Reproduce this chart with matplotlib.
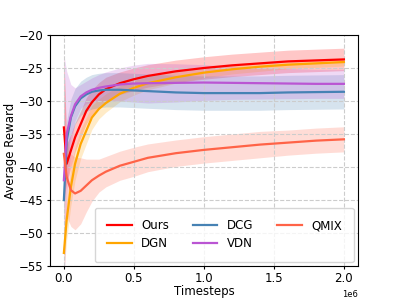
import matplotlib
import numpy as np

matplotlib.use("Agg")
from matplotlib import pyplot as plt

steps = [0, 0.02, 0.05, 0.08, 0.12, 0.16, 0.2, 0.25, 0.3, 0.4, 0.5, 0.6, 0.8, 1.0, 1.2, 1.4, 1.6, 1.8, 2.0]

ours = [-34, -39.5, -37.5, -35.5, -33.5, -31.5, -30.2, -29.0, -28.2, -27.3, -26.7, -26.2, -25.5, -25.0, -24.6, -24.3, -24.0, -23.85, -23.7]
ours_std = [10.7, 3.0, 2.5, 2.2, 2.0, 2.0, 1.9, 1.8, 1.8, 1.7, 1.7, 1.7, 1.7, 1.7, 1.7, 1.7, 1.7, 1.7, 1.7]

dgn = [-53, -48, -43, -39.5, -36.5, -34.5, -32.5, -31.2, -30.3, -28.9, -28.0, -27.3, -26.4, -25.7, -25.2, -24.8, -24.5, -24.3, -24.1]
dgn_std = [3.0, 3.0, 2.8, 2.5, 2.2, 2.0, 1.8, 1.5, 1.4, 1.2, 1.1, 1.0, 0.9, 0.8, 0.7, 0.7, 0.6, 0.6, 0.6]

dcg = [-45, -36, -32.5, -30.8, -29.6, -29.0, -28.6, -28.4, -28.3, -28.3, -28.4, -28.5, -28.7, -28.8, -28.8, -28.8, -28.7, -28.65, -28.6]
dcg_std = [3.0, 3.0, 2.8, 2.7, 2.6, 2.6, 2.6, 2.6, 2.6, 2.6, 2.6, 2.6, 2.6, 2.6, 2.6, 2.6, 2.6, 2.6, 2.6]

vdn = [-42, -35, -32.3, -30.5, -29.3, -28.7, -28.3, -28.0, -27.8, -27.5, -27.35, -27.3, -27.25, -27.2, -27.25, -27.3, -27.35, -27.4, -27.4]
vdn_std = [19.0, 9.5, 4.8, 2.5, 1.8, 1.7, 1.8, 2.0, 2.2, 2.5, 2.8, 3.0, 2.9, 2.7, 2.5, 2.4, 2.3, 2.2, 2.2]

qmix = [-38, -41.5, -43.5, -44.0, -43.6, -42.8, -42.0, -41.3, -40.7, -39.8, -39.2, -38.6, -37.9, -37.4, -37.0, -36.6, -36.3, -36.0, -35.8]
qmix_std = [15.0, 6.0, 5.5, 5.5, 5.0, 4.0, 3.2, 2.5, 2.3, 2.2, 2.2, 2.1, 2.0, 2.0, 2.0, 2.0, 1.9, 1.9, 1.9]

series = [
    ("Ours", ours, ours_std, "red"),
    ("DGN", dgn, dgn_std, "orange"),
    ("DCG", dcg, dcg_std, "steelblue"),
    ("VDN", vdn, vdn_std, "mediumorchid"),
    ("QMIX", qmix, qmix_std, "tomato"),
]

figure, axis = plt.subplots(figsize=(3.99, 2.99), dpi=100)
figure.subplots_adjust(left=0.125, right=0.897, bottom=0.11, top=0.883)

x = np.asarray(steps) * 1e6
for label, mean, std, color in series:
    mean = np.asarray(mean)
    std = np.asarray(std)
    axis.fill_between(x, mean - std, mean + std, color=color, alpha=0.22, linewidth=0)
    axis.plot(x, mean, color=color, linewidth=1.6, label=label)

axis.set_ylim(-55, -20)
axis.set_xlim(-0.1e6, 2.1e6)
axis.set_xticks([0, 0.5e6, 1.0e6, 1.5e6, 2.0e6])
axis.set_yticks([-55, -50, -45, -40, -35, -30, -25, -20])
axis.grid(True, linestyle="--", color="#cccccc", linewidth=0.8)
axis.set_xlabel("Timesteps", fontsize=8.5, labelpad=0)
axis.set_ylabel("Average Reward", fontsize=8.5, labelpad=1.5)
axis.tick_params(labelsize=8.5, length=2.5, pad=2.0)
axis.xaxis.get_offset_text().set_fontsize(6)
axis.legend(
    loc="lower right",
    ncol=3,
    fontsize=8.5,
    borderpad=1.0,
    borderaxespad=0.35,
    handlelength=2.1,
    handletextpad=0.8,
    columnspacing=2.0,
    labelspacing=0.4,
)

figure.savefig("out.png")
